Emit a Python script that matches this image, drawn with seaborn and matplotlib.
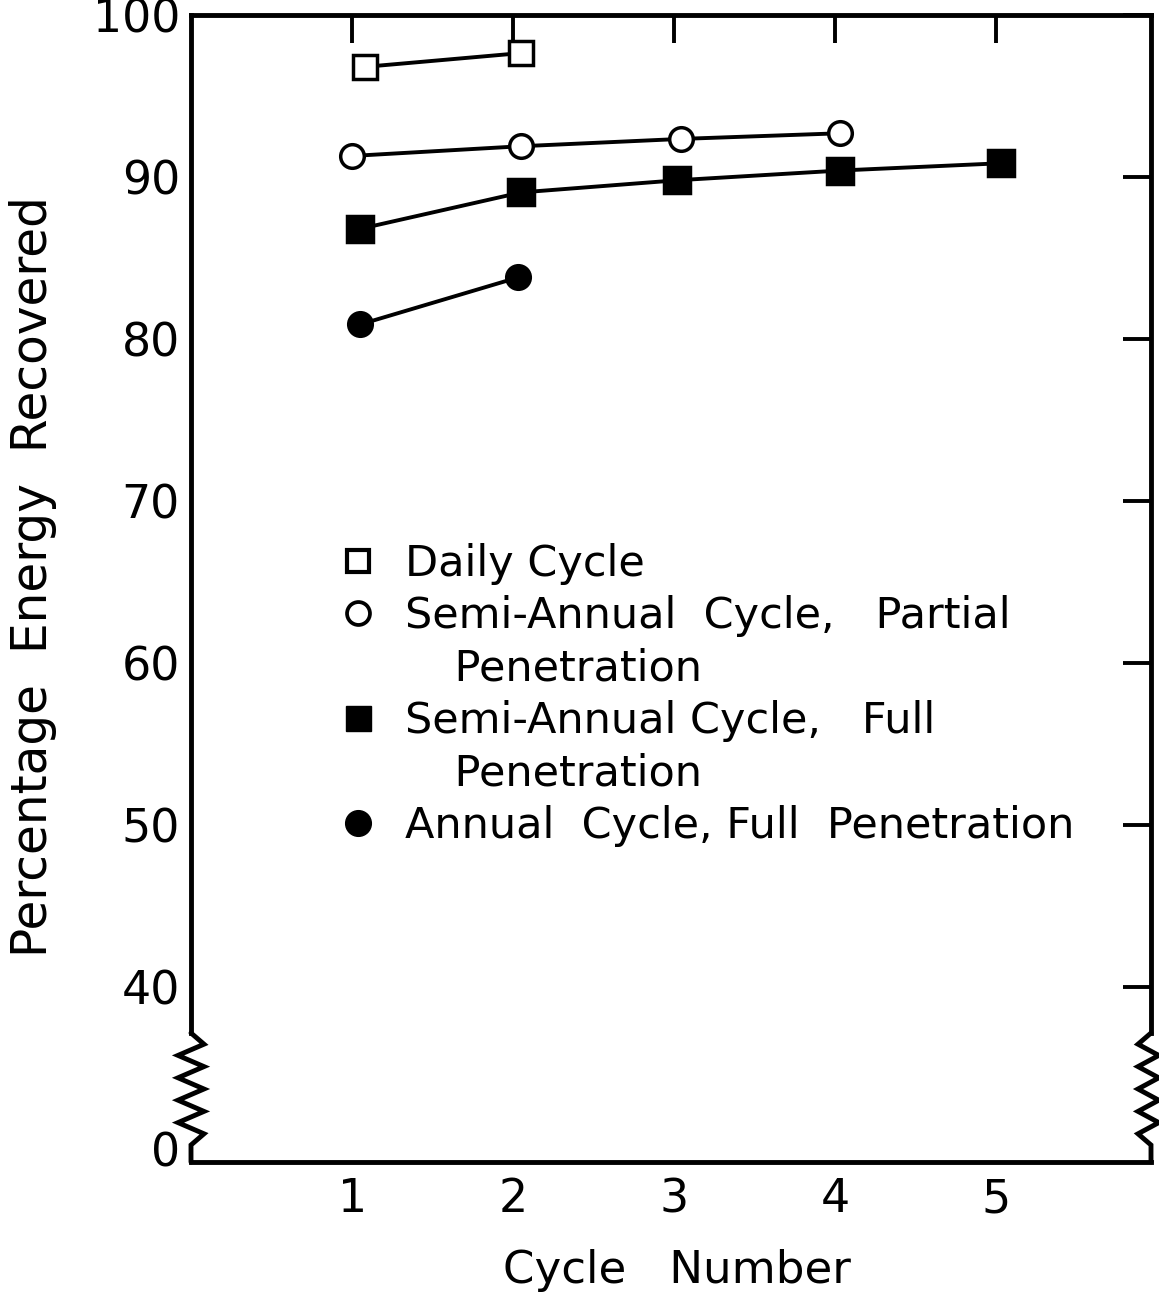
import matplotlib
matplotlib.use("Agg")
import matplotlib.pyplot as plt
import seaborn as sns
import numpy as np
from matplotlib.lines import Line2D

# ---- data ----
daily_x = [1.08, 2.05]
daily_y = [96.8, 97.65]
semi_partial_x = [1.0, 2.05, 3.04, 4.03]
semi_partial_y = [91.3, 91.9, 92.35, 92.7]
semi_full_x = [1.05, 2.05, 3.02, 4.03, 5.03]
semi_full_y = [86.8, 89.05, 89.8, 90.4, 90.85]
annual_x = [1.05, 2.03]
annual_y = [80.9, 83.8]

legend_lines = ["Daily Cycle",
                "Semi-Annual  Cycle,   Partial",
                "   \u2009Penetration",
                "Semi-Annual Cycle,   Full",
                "   \u2009Penetration",
                "Annual  Cycle, Full  Penetration"]
x_ticks = [1, 2, 3, 4, 5]
x_tick_labels = ["1", "2", "3", "4", "5"]
y_ticks = [40, 50, 60, 70, 80, 90, 100]
y_tick_labels = ["40", "50", "60", "70", "80", "90", "100"]
y_break_value = 30
y_break_label = "0"
x_label = "Cycle   Number"
y_label = "Percentage  Energy  Recovered"

sns.set_theme(style="white")
plt.rcParams['font.family'] = ['DejaVu Sans']

W, H = 1159, 1308
fig = plt.figure(figsize=(W / 100, H / 100), dpi=100)
ax_left, ax_right, ax_top, ax_bot = 191, 1151, 15, 1162
ax = fig.add_axes([ax_left / W, 1 - ax_bot / H, (ax_right - ax_left) / W, (ax_bot - ax_top) / H])
ax.set_facecolor("white")

lw = 2.8
styles = [
    (daily_x, daily_y, dict(marker="s", markerfacecolor="white", markersize=17)),
    (semi_partial_x, semi_partial_y, dict(marker="o", markerfacecolor="white", markersize=17)),
    (semi_full_x, semi_full_y, dict(marker="s", markerfacecolor="black", markersize=19)),
    (annual_x, annual_y, dict(marker="o", markerfacecolor="black", markersize=17)),
]
for xs, ys, st in styles:
    sns.lineplot(x=xs, y=ys, ax=ax, color="black", linewidth=lw,
                 markeredgecolor="black", markeredgewidth=2.5, sort=False,
                 estimator=None, zorder=3, **st)

ax.set_xlim(0, 5.96)
ax.set_ylim(29.2, 100)

ax.set_xticks(x_ticks)
ax.set_xticklabels(x_tick_labels)
ax.set_yticks(y_ticks)
ax.set_yticklabels(y_tick_labels)
ax.set_yticks([y_break_value], labels=[y_break_label], minor=True)

ax.tick_params(which="major", direction="in", length=20, width=2.8, top=True, right=True,
               labelsize=33, color="black", labelcolor="black")
ax.tick_params(which="minor", length=0, labelsize=33, labelcolor="black")
ax.tick_params(axis="y", which="both", pad=8)
ax.tick_params(axis="x", which="both", pad=11)

# spines
spine_lw = 3.5
for s in ax.spines.values():
    s.set_linewidth(spine_lw)
    s.set_color("black")
    s.set_visible(True)

# axis break geometry (pixels -> data)
def py2data(py):
    return 100 - (py - ax_top) * (100 - 29.2) / (ax_bot - ax_top)

brk_top = py2data(1033)
brk_bot = py2data(1145)
ax.spines["left"].set_bounds(brk_top, 100)
ax.spines["right"].set_bounds(brk_top, 100)

axw = ax_right - ax_left
amp = 13 / axw
n = 9
ys_z = np.linspace(brk_top, brk_bot, n + 2)
yl = list(ys_z) + [29.2]
# left zigzag
xl = [0] + [amp if i % 2 == 0 else -amp for i in range(n)] + [0, 0]
ax.plot(xl, yl, transform=ax.get_yaxis_transform(), color="black", lw=spine_lw,
        clip_on=False, solid_joinstyle="miter", zorder=5)
# right zigzag
xr = [1] + [1 - amp if i % 2 == 0 else 1 + 0.6 * amp for i in range(n)] + [1, 1]
ax.plot(xr, yl, transform=ax.get_yaxis_transform(), color="black", lw=spine_lw,
        clip_on=False, solid_joinstyle="miter", zorder=5)

# labels
ax.set_xlabel(x_label, fontsize=32.5, color="black")
ax.set_ylabel(y_label, fontsize=35, color="black")
ax.xaxis.set_label_coords((677 - ax_left) / axw, (ax_bot - 1249) / (ax_bot - ax_top))
ax.yaxis.set_label_coords((57 - ax_left) / axw, (ax_bot - 577) / (ax_bot - ax_top))

# legend
blank = Line2D([], [], linestyle="none", marker=None)
handles = [
    Line2D([], [], linestyle="none", marker="s", markersize=16, markerfacecolor="white",
           markeredgecolor="black", markeredgewidth=3.0),
    Line2D([], [], linestyle="none", marker="o", markersize=16.5, markerfacecolor="white",
           markeredgecolor="black", markeredgewidth=2.7),
    blank,
    Line2D([], [], linestyle="none", marker="s", markersize=18, markerfacecolor="black",
           markeredgecolor="black"),
    blank,
    Line2D([], [], linestyle="none", marker="o", markersize=18.5, markerfacecolor="black",
           markeredgecolor="black"),
]
leg = ax.legend(handles, legend_lines, loc="upper left", bbox_to_anchor=(336 / W, 1 - 543 / H),
                bbox_transform=fig.transFigure, frameon=False, fontsize=31,
                handlelength=1.0, handletextpad=0.6, labelspacing=0.24,
                borderpad=0, borderaxespad=0)
for t in leg.get_texts():
    t.set_color("black")

fig.savefig("out.png", dpi=100, facecolor="white")
